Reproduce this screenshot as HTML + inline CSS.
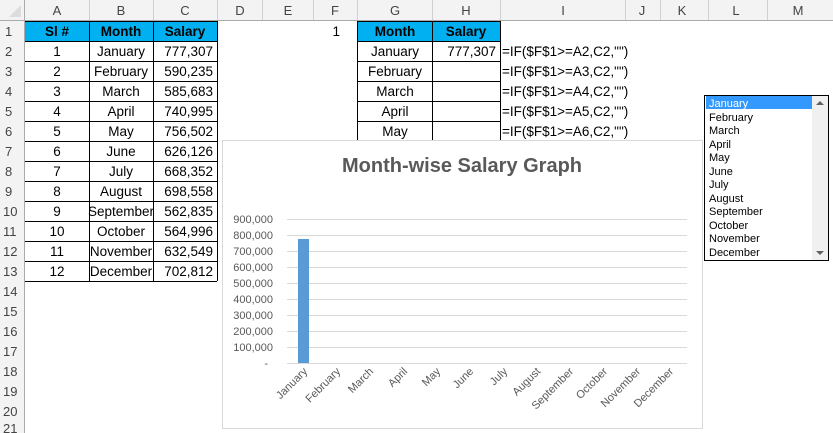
<!DOCTYPE html>
<html><head><meta charset="utf-8"><style>
html,body{margin:0;padding:0;background:#fff;width:833px;height:433px;overflow:hidden}
svg text{font-family:"Liberation Sans",Arial,sans-serif}
</style></head><body>
<svg width="833" height="433" viewBox="0 0 833 433" xmlns="http://www.w3.org/2000/svg">
<rect x="0" y="0" width="833" height="433" fill="#fff"/>
<!-- column header -->
<rect x="0" y="0" width="833" height="21" fill="#f3f3f3"/>
<line x1="0" y1="20.5" x2="833" y2="20.5" stroke="#ababab"/>
<rect x="0" y="21" width="25" height="412" fill="#f3f3f3"/>
<line x1="24.5" y1="0" x2="24.5" y2="433" stroke="#ababab"/>
<polygon points="21,5 21,17 9,17" fill="#dcdcdc"/>
<g stroke="#d0d0d0">
<line x1="89.5" y1="0" x2="89.5" y2="20"/><line x1="153.5" y1="0" x2="153.5" y2="20"/><line x1="217.5" y1="0" x2="217.5" y2="20"/><line x1="262.5" y1="0" x2="262.5" y2="20"/><line x1="313.5" y1="0" x2="313.5" y2="20"/><line x1="357.5" y1="0" x2="357.5" y2="20"/><line x1="432.5" y1="0" x2="432.5" y2="20"/><line x1="500.5" y1="0" x2="500.5" y2="20"/><line x1="625.5" y1="0" x2="625.5" y2="20"/><line x1="660.5" y1="0" x2="660.5" y2="20"/><line x1="708.5" y1="0" x2="708.5" y2="20"/><line x1="767.5" y1="0" x2="767.5" y2="20"/>
</g>
<g font-size="13" fill="#444" text-anchor="middle">
<text x="57" y="15">A</text><text x="121" y="15">B</text><text x="185" y="15">C</text><text x="240" y="15">D</text><text x="288" y="15">E</text><text x="335" y="15">F</text><text x="395" y="15">G</text><text x="466" y="15">H</text><text x="563" y="15">I</text><text x="642" y="15">J</text><text x="682" y="15">K</text><text x="736" y="15">L</text><text x="798" y="15">M</text>
</g>
<!-- row numbers -->
<g font-size="13" fill="#444" text-anchor="start">
<text x="5" y="36">1</text><text x="5" y="56">2</text><text x="5" y="76">3</text><text x="5" y="96">4</text><text x="5" y="116">5</text><text x="5" y="136">6</text><text x="5" y="156">7</text><text x="5" y="176">8</text><text x="5" y="196">9</text><text x="3" y="216">10</text><text x="3" y="236">11</text><text x="3" y="256">12</text><text x="3" y="276">13</text><text x="3" y="296">14</text><text x="3" y="316">15</text><text x="3" y="336">16</text><text x="3" y="356">17</text><text x="3" y="376">18</text><text x="3" y="396">19</text><text x="3" y="416">20</text><text x="3" y="433">21</text>
</g>
<!-- table 1 -->
<rect x="25" y="21" width="192" height="20" fill="#00b0f0"/>
<rect x="357" y="21" width="143" height="20" fill="#00b0f0"/>
<g stroke="#000" stroke-width="1">
<line x1="25" y1="21.5" x2="217" y2="21.5"/>
<line x1="25" y1="41.5" x2="217" y2="41.5"/><line x1="25" y1="61.5" x2="217" y2="61.5"/><line x1="25" y1="81.5" x2="217" y2="81.5"/><line x1="25" y1="101.5" x2="217" y2="101.5"/><line x1="25" y1="121.5" x2="217" y2="121.5"/><line x1="25" y1="141.5" x2="217" y2="141.5"/><line x1="25" y1="161.5" x2="217" y2="161.5"/><line x1="25" y1="181.5" x2="217" y2="181.5"/><line x1="25" y1="201.5" x2="217" y2="201.5"/><line x1="25" y1="221.5" x2="217" y2="221.5"/><line x1="25" y1="241.5" x2="217" y2="241.5"/><line x1="25" y1="261.5" x2="217" y2="261.5"/><line x1="25" y1="281.5" x2="217" y2="281.5"/>
<line x1="89.5" y1="21" x2="89.5" y2="281"/><line x1="153.5" y1="21" x2="153.5" y2="281"/><line x1="217.5" y1="21" x2="217.5" y2="281"/>
<!-- table 2 -->
<line x1="357" y1="21.5" x2="500" y2="21.5"/><line x1="357" y1="41.5" x2="500" y2="41.5"/><line x1="357" y1="61.5" x2="500" y2="61.5"/><line x1="357" y1="81.5" x2="500" y2="81.5"/><line x1="357" y1="101.5" x2="500" y2="101.5"/><line x1="357" y1="121.5" x2="500" y2="121.5"/>
<line x1="357.5" y1="21" x2="357.5" y2="141"/><line x1="432.5" y1="21" x2="432.5" y2="141"/><line x1="500.5" y1="21" x2="500.5" y2="141"/>
</g>
<g font-size="13.5" fill="#000" font-weight="bold" text-anchor="middle">
<text x="57" y="36">Sl #</text><text x="121" y="36">Month</text><text x="185" y="36">Salary</text>
<text x="395" y="36">Month</text><text x="466" y="36">Salary</text>
</g>
<g font-size="13.5" fill="#000" text-anchor="middle">
<text x="57" y="56">1</text><text x="57" y="76">2</text><text x="57" y="96">3</text><text x="57" y="116">4</text><text x="57" y="136">5</text><text x="57" y="156">6</text><text x="57" y="176">7</text><text x="57" y="196">8</text><text x="57" y="216">9</text><text x="57" y="236">10</text><text x="57" y="256">11</text><text x="57" y="276">12</text>
<text x="121" y="56">January</text><text x="121" y="76">February</text><text x="121" y="96">March</text><text x="121" y="116">April</text><text x="121" y="136">May</text><text x="121" y="156">June</text><text x="121" y="176">July</text><text x="121" y="196">August</text><text x="121" y="216">September</text><text x="121" y="236">October</text><text x="121" y="256">November</text><text x="121" y="276">December</text>
<text x="395" y="56">January</text><text x="395" y="76">February</text><text x="395" y="96">March</text><text x="395" y="116">April</text><text x="395" y="136">May</text>
</g>
<g font-size="13.5" fill="#000" text-anchor="end">
<text x="213" y="56">777,307</text><text x="213" y="76">590,235</text><text x="213" y="96">585,683</text><text x="213" y="116">740,995</text><text x="213" y="136">756,502</text><text x="213" y="156">626,126</text><text x="213" y="176">668,352</text><text x="213" y="196">698,558</text><text x="213" y="216">562,835</text><text x="213" y="236">564,996</text><text x="213" y="256">632,549</text><text x="213" y="276">702,812</text>
<text x="496" y="56">777,307</text>
<text x="340" y="36">1</text>
</g>
<g font-size="13.5" fill="#000" text-anchor="start">
<text x="502" y="56">=IF($F$1&gt;=A2,C2,"")</text><text x="502" y="76">=IF($F$1&gt;=A3,C2,"")</text><text x="502" y="96">=IF($F$1&gt;=A4,C2,"")</text><text x="502" y="116">=IF($F$1&gt;=A5,C2,"")</text><text x="502" y="136">=IF($F$1&gt;=A6,C2,"")</text>
</g>
<!-- chart -->
<rect x="222.5" y="140.5" width="480" height="288" fill="#fff" stroke="#d9d9d9"/>
<text x="462" y="172" font-size="20" font-weight="bold" fill="#595959" text-anchor="middle">Month-wise Salary Graph</text>
<g stroke="#d9d9d9">
<line x1="287" y1="219.5" x2="687" y2="219.5"/><line x1="287" y1="235.5" x2="687" y2="235.5"/><line x1="287" y1="251.5" x2="687" y2="251.5"/><line x1="287" y1="267.5" x2="687" y2="267.5"/><line x1="287" y1="283.5" x2="687" y2="283.5"/><line x1="287" y1="299.5" x2="687" y2="299.5"/><line x1="287" y1="315.5" x2="687" y2="315.5"/><line x1="287" y1="331.5" x2="687" y2="331.5"/><line x1="287" y1="347.5" x2="687" y2="347.5"/><line x1="287" y1="363.5" x2="687" y2="363.5"/>
</g>
<g font-size="11" fill="#595959" text-anchor="end">
<text x="273" y="223">900,000</text><text x="273" y="239">800,000</text><text x="273" y="255">700,000</text><text x="273" y="271">600,000</text><text x="273" y="287">500,000</text><text x="273" y="303">400,000</text><text x="273" y="319">300,000</text><text x="273" y="335">200,000</text><text x="273" y="351">100,000</text><text x="268" y="367">-</text>
</g>
<rect x="298" y="239" width="11" height="124" fill="#5b9bd5"/>
<g font-size="11" fill="#595959" text-anchor="end">
<text transform="translate(308,372) rotate(-45)">January</text>
<text transform="translate(341,372) rotate(-45)">February</text>
<text transform="translate(374,372) rotate(-45)">March</text>
<text transform="translate(408,372) rotate(-45)">April</text>
<text transform="translate(441,372) rotate(-45)">May</text>
<text transform="translate(474,372) rotate(-45)">June</text>
<text transform="translate(508,372) rotate(-45)">July</text>
<text transform="translate(541,372) rotate(-45)">August</text>
<text transform="translate(574,372) rotate(-45)">September</text>
<text transform="translate(608,372) rotate(-45)">October</text>
<text transform="translate(641,372) rotate(-45)">November</text>
<text transform="translate(674,372) rotate(-45)">December</text>
</g>
<!-- listbox -->
<rect x="704.5" y="95.5" width="124" height="165" fill="#fff" stroke="#000"/>
<rect x="812" y="96" width="16" height="164" fill="#f0f0f0"/>
<polygon points="816,105 824,105 820,101" fill="#606060"/>
<polygon points="816,251 824,251 820,255" fill="#606060"/>
<rect x="706" y="96" width="106" height="13" fill="#3399ff"/>
<g font-size="11" fill="#000">
<text x="709" y="107" fill="#fff">January</text><text x="709" y="121">February</text><text x="709" y="134">March</text><text x="709" y="148">April</text><text x="709" y="161">May</text><text x="709" y="175">June</text><text x="709" y="188">July</text><text x="709" y="202">August</text><text x="709" y="215">September</text><text x="709" y="229">October</text><text x="709" y="242">November</text><text x="709" y="256">December</text>
</g>
</svg>
</body></html>
